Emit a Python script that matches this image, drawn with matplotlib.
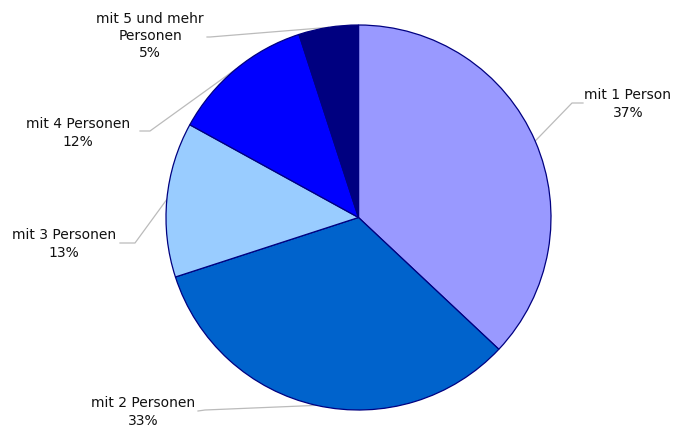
import numpy as np
import matplotlib
matplotlib.use("Agg")
import matplotlib.pyplot as plt

categories = ["mit 1 Person", "mit 2 Personen", "mit 3 Personen", "mit 4 Personen", "mit 5 und mehr\nPersonen"]
values = [37, 33, 13, 12, 5]
colors = ["#9999FF", "#0063CC", "#99CCFF", "#0000FF", "#000080"]

# label layout (pixel coords, y from top): text center, leader elbow, leader end
label_pos = [(628, 104), (143, 412), (64, 244), (78, 133), (150, 36)]
elbow = [(572, 103), (205, 410), (135, 243), (150, 131), (210, 37)]
end_off = [(583, 103), (198, 411), (120, 243), (140, 131), (207, 37)]

W, H = 677, 429
fig = plt.figure(figsize=(W / 100, H / 100), dpi=100)
ax = fig.add_axes([0, 0, 1, 1])

cx, cy, r = 358.5, H - 217.5, 192.5
wedges, _ = ax.pie(values, colors=colors, startangle=90, counterclock=False,
                   center=(cx, cy), radius=r, frame=True,
                   wedgeprops=dict(edgecolor="#000080", linewidth=0.9))
ax.set_xlim(0, W)
ax.set_ylim(0, H)
ax.set_aspect("equal")
ax.axis("off")

for w, lab, v, (tx, ty), (ex, ey), (fx, fy) in zip(wedges, categories, values, label_pos, elbow, end_off):
    ang = np.deg2rad((w.theta1 + w.theta2) / 2)
    px, py = cx + r * np.cos(ang), cy + r * np.sin(ang)
    ax.plot([px, ex, fx], [py, H - ey, H - fy], color="#BBBBBB", lw=0.9, zorder=0)
    ax.text(tx, H - ty, f"{lab}\n{v}%", ha="center", va="center", fontsize=10,
            family="DejaVu Sans", color="#111111", linespacing=1.3)

fig.savefig("out.png", dpi=100, facecolor="white")
